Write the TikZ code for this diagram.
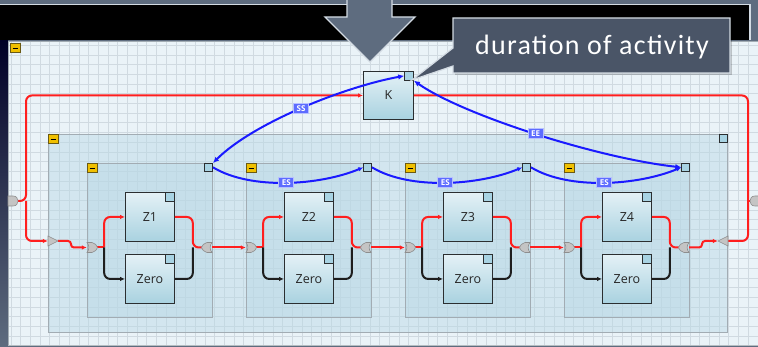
\documentclass[tikz,border=0pt]{standalone}
\usepackage{fontspec}
\setmainfont{Open Sans}
\newfontfamily\notefont{Carlito}
\usetikzlibrary{arrows.meta,calc}

\definecolor{slate}{HTML}{5E6C7F}
\definecolor{edgelight}{HTML}{D3DBE3}
\definecolor{canvasbg}{HTML}{EAF3F8}
\definecolor{gridc}{HTML}{D0DAE1}
\definecolor{contfill}{HTML}{B8D8E5}
\definecolor{contline}{HTML}{A2ACB3}
\definecolor{boxtop}{HTML}{E4F1F6}
\definecolor{boxbot}{HTML}{A9D2E0}
\definecolor{boxline}{HTML}{2B2E30}
\definecolor{portfill}{HTML}{A8D3E3}
\definecolor{btnyellow}{HTML}{F0C000}
\definecolor{btnline}{HTML}{6B5A14}
\definecolor{flowred}{HTML}{FF1E1E}
\definecolor{flowblack}{HTML}{1E1E1E}
\definecolor{linkblue}{HTML}{1A1AFF}
\definecolor{tagblue}{HTML}{5D6CFF}
\definecolor{tagedge}{HTML}{B8C0FF}
\definecolor{gatefill}{HTML}{C4C4C4}
\definecolor{gateline}{HTML}{8E8E8E}
\definecolor{notefill}{HTML}{4A5567}

\tikzset{
  cont/.style={draw=contline, line width=1pt, fill=contfill, fill opacity=0.45, inner sep=0},
  boxnode/.style={draw=boxline, line width=0.9pt, top color=boxtop, bottom color=boxbot,
    minimum width=49pt, minimum height=49pt, inner sep=0, anchor=north west,
    font=\fontsize{12.5}{14}\selectfont, text=black!85},
  cornersq/.style={draw=boxline, line width=0.7pt, fill=portfill, minimum size=9pt, inner sep=0, anchor=north east},
  portsq/.style={draw=boxline, line width=0.7pt, fill=portfill, minimum size=8pt, inner sep=0},
  minusbtn/.style={draw=btnline, line width=0.7pt, fill=btnyellow, minimum size=9.5pt, inner sep=0, anchor=north west,
    path picture={\draw[black, line width=1pt] ($(path picture bounding box.center)+(-2.5,0)$) -- ++(5,0);}},
  gatenode/.style={minimum size=10pt, inner sep=0},
  gatebody/.style={fill=gatefill, draw=gateline, line width=0.6pt},
  redflow/.style={draw=flowred, line width=2pt, rounded corners=6pt},
  blackflow/.style={draw=flowblack, line width=2pt, rounded corners=6pt},
  bluelink/.style={draw=linkblue, line width=2pt},
  tip/.style={-{Latex[length=5pt,width=4.5pt]}},
  bothtips/.style={{Latex[length=6pt,width=5.5pt]}-{Latex[length=6pt,width=5.5pt]}},
  tag/.style={fill=tagblue, draw=tagedge, line width=0.7pt, text=white, inner sep=0,
    minimum width=15pt, minimum height=10pt, font=\bfseries\fontsize{8}{8}\selectfont},
}

\begin{document}
\begin{tikzpicture}[x=1pt,y=-1pt]
\useasboundingbox (0,0) rectangle (758,347);

% backdrop of the slide
\fill[slate] (0,0) rectangle (758,347);
\shade[top color=black!85!blue, bottom color=slate] (0,40) rectangle (8,347);
\fill[black] (0,5) rectangle (750,40);
\draw[edgelight, line width=1.2pt] (0,4.5) -- (750,4.5) -- (750,40);

% canvas with its grid
\fill[canvasbg] (8,41) rectangle (758,345);
\foreach \i in {0,...,77} \draw[gridc, line width=0.8pt] ({11+9.7*\i},41) -- ({11+9.7*\i},345);
\foreach \j in {0,...,30} \draw[gridc, line width=0.8pt] (8,{45.3+9.7*\j}) -- (758,{45.3+9.7*\j});
\draw[contline, line width=1pt] (8,345) -- (8,41.5) -- (758,41.5);
\draw[contline!80, line width=1.5pt] (8,345.5) -- (758,345.5);
\node[minusbtn] (mcanvas) at (10,43) {};

% outer container
\node[cont, minimum width=679pt, minimum height=198pt, anchor=north west] (outer) at (48,134) {};
\node[minusbtn] (mouter) at (outer.north west) {};
\node[portsq, anchor=north east] (pouter) at (outer.north east) {};

% the activity K
\node[boxnode, minimum width=50pt, minimum height=48pt] (K) at (363,71) {K};
\node[cornersq] (kp) at (K.north east) {};

% four inner containers, each with Zi and Zero
\foreach \i/\x in {1/87,2/246,3/405,4/564} {
  \node[cont, minimum width=125pt, minimum height=154pt, anchor=north west] (c\i) at (\x,163) {};
  \node[minusbtn] (m\i) at (c\i.north west) {};
  \node[portsq, anchor=north east] (p\i) at (c\i.north east) {};
  \node[boxnode] (z\i) at ({\x+38},192) {Z\i};
  \node[cornersq] (z\i c) at (z\i.north east) {};
  \node[boxnode] (o\i) at ({\x+38},254) {Zero};
  \node[cornersq] (o\i c) at (o\i.north east) {};
  \node[gatenode] (gi\i) at ({\x+5},247.5) {};
  \node[gatenode] (go\i) at ({\x+120},247.5) {};
}

% gates
\node[gatenode] (ogl) at (53,241) {};
\node[gatenode] (ogr) at (723,241) {};
\node[gatenode] (cgl) at (13,201) {};
\node[gatenode] (cgr) at (755,201) {};
\coordinate (jl) at (26,201);
\coordinate (jr) at (748,201);

% flows inside each container
\foreach \i in {1,...,4} {
  \coordinate (s\i) at ($(gi\i.east)+(7,0)$);
  \coordinate (t\i) at ($(go\i.west)+(-9,0)$);
  \draw[redflow] (gi\i.east) -- (s\i);
  \draw[redflow, tip] (s\i) |- (z\i.west);
  \draw[blackflow, tip] (s\i) |- (o\i.west);
  \draw[redflow] (z\i.east) -| (t\i) -- (go\i.west);
  \draw[blackflow] (o\i.east) -| (t\i);
}
\foreach \i/\j in {1/2,2/3,3/4} \draw[redflow, tip] (go\i.east) -- (gi\j.west);

% flows of the outer level
\draw[redflow, tip] (cgl.east) -- (jl) |- (K.west);
\draw[redflow, tip] (jl) |- (ogl.west);
\draw[redflow, rounded corners=3pt, tip] (ogl.east) -- (71,241) -- (71,247.5) -- (gi1.west);
\draw[redflow, rounded corners=3pt, tip] (go4.east) -- (702,247.5) -- (702,241) -- (ogr.west);
\draw[redflow] (ogr.east) -| (jr) |- (K.east);
\draw[redflow] (jr) -- (cgr.west);

% gate symbols
\foreach \g in {gi1,gi2,gi3,gi4}
  \draw[gatebody, shift={(\g.center)}] (-5,-5) .. controls (-2.5,-2) and (-2.5,2) .. (-5,5) -- (0,5)
     .. controls (3,4.5) and (5,2) .. (5.5,0) .. controls (5,-2) and (3,-4.5) .. (0,-5) -- cycle;
\foreach \g in {go1,go2,go3,go4}
  \draw[gatebody, shift={(\g.center)}, xscale=-1] (-5,-5) .. controls (-2.5,-2) and (-2.5,2) .. (-5,5) -- (0,5)
     .. controls (3,4.5) and (5,2) .. (5.5,0) .. controls (5,-2) and (3,-4.5) .. (0,-5) -- cycle;
\draw[gatebody, shift={(ogl.center)}] (-5,-5) -- (5,0) -- (-5,5) -- cycle;
\draw[gatebody, shift={(ogr.center)}] (5,-5) -- (-5,0) -- (5,5) -- cycle;
\draw[gatebody, shift={(cgl.center)}] (-5,-5) -- (0,-5) .. controls (3.5,-5) and (5,-2.5) .. (5,0)
     .. controls (5,2.5) and (3.5,5) .. (0,5) -- (-5,5) -- cycle;
\draw[gatebody, shift={(cgr.center)}] (5,-5) -- (0,-5) .. controls (-3.5,-5) and (-5,-2.5) .. (-5,0)
     .. controls (-5,2.5) and (-3.5,5) .. (0,5) -- (5,5) -- cycle;

% dependency links
\draw[bluelink, bothtips] (p1.north east) .. controls +(40,-40) and +(-60,11) .. (kp.west)
  node[tag, pos=0.5] (tagss) {SS};
\draw[bluelink, bothtips] (kp.south east) .. controls +(50,35) and +(-82,-9) .. (p4.west)
  node[tag, pos=0.5] (tagee) {EE};
\foreach \i/\j in {1/2,2/3,3/4}
  \draw[bluelink, tip] (p\i.east) .. controls +(38,23) and +(-43,18) .. (p\j.west)
    node[tag, pos=0.5] (tages\i) {ES};

% big pointer arrow from the slide title
\fill[slate] (347,-1) -- (347,17) -- (325,17) -- (370,62) -- (415,17) -- (392,17) -- (392,-1) -- cycle;
\draw[edgelight, line width=1.3pt, line join=miter] (347,-1) -- (347,17) -- (325,17) -- (370,62) -- (415,17) -- (392,17) -- (392,-1);

% callout
\fill[black, opacity=0.2] (455,20) rectangle (732,75);
\filldraw[fill=notefill, draw=edgelight, line width=1.2pt, line join=miter]
  (453,18) -- (730,18) -- (730,73) -- (453,73) -- (453,66) -- (412,80) -- (453,48) -- cycle;
\node[text=white, font=\notefont\fontsize{28}{30}\selectfont\addfontfeature{LetterSpace=4.5}, anchor=base]
  (note) at (592,55) {duration of activity};
\end{tikzpicture}
\end{document}
